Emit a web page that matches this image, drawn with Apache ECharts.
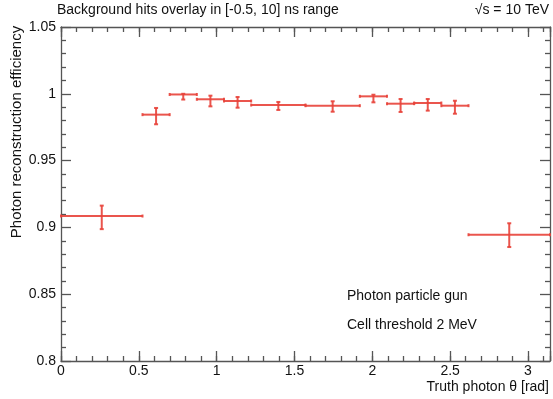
<!DOCTYPE html>
<html>
<head>
<meta charset="utf-8">
<script src="https://cdn.jsdelivr.net/npm/echarts@6/dist/echarts.min.js"></script>
<style>html,body{margin:0;padding:0;background:#fff}#c{width:553px;height:399px}</style>
</head>
<body>
<div id="c"></div>
<script>
// Bin edges in degrees of truth theta
const binLoDeg = [0, 30, 40, 50, 60, 70, 90, 110, 120, 130, 140, 150];
const binHiDeg = [30, 40, 50, 60, 70, 90, 110, 120, 130, 140, 150, 180];
// Efficiency and error band (lower/upper)
const eff    = [0.9085, 0.9844, 0.9995, 0.9959, 0.9946, 0.9916, 0.9911, 0.9981, 0.9926, 0.9931, 0.9911, 0.8945];
const effLow = [0.8987, 0.9772, 0.9957, 0.9906, 0.9896, 0.9879, 0.9866, 0.9936, 0.9864, 0.9874, 0.9851, 0.8853];
const effUp  = [0.9163, 0.9894, 1.0000, 0.9986, 0.9976, 0.9939, 0.9944, 0.9993, 0.9961, 0.9961, 0.9948, 0.9031];
const xTickLabels = ['0', '0.5', '1', '1.5', '2', '2.5', '3'];
const yTickLabels = ['0.8', '0.85', '0.9', '0.95', '1', '1.05'];

const FONT = '"Liberation Sans", Arial, Helvetica, sans-serif';
const RED = '#e8433a';
const AXC = '#555555';

const data = binLoDeg.map((lo, i) => [lo * Math.PI / 180, binHiDeg[i] * Math.PI / 180, eff[i], effLow[i], effUp[i]]);

function renderItem(params, api) {
  const xlo = api.value(0), xhi = api.value(1), y = api.value(2), ylo = api.value(3), yhi = api.value(4);
  const xc = (xlo + xhi) / 2;
  const pL = api.coord([xlo, y]), pR = api.coord([xhi, y]);
  const pT = api.coord([xc, yhi]), pB = api.coord([xc, ylo]);
  const style = { stroke: RED, lineWidth: 2, opacity: 0.9 };
  const c = 2;
  return {
    type: 'group',
    children: [
      { type: 'line', shape: { x1: pL[0], y1: pL[1], x2: pR[0], y2: pR[1] }, style },
      { type: 'line', shape: { x1: pT[0], y1: pT[1], x2: pB[0], y2: pB[1] }, style },
      { type: 'line', shape: { x1: pT[0] - c, y1: pT[1], x2: pT[0] + c, y2: pT[1] }, style },
      { type: 'line', shape: { x1: pB[0] - c, y1: pB[1], x2: pB[0] + c, y2: pB[1] }, style },
      { type: 'line', shape: { x1: pL[0], y1: pL[1] - 1.5, x2: pL[0], y2: pL[1] + 1.5 }, style },
      { type: 'line', shape: { x1: pR[0], y1: pR[1] - 1.5, x2: pR[0], y2: pR[1] + 1.5 }, style }
    ]
  };
}

function isLabel(v, list) {
  return list.indexOf(String(+v.toFixed(4))) >= 0;
}

const lineStyle = { color: AXC, width: 1.3 };
function xAx(pos, interval, len, labels) {
  return {
    type: 'value', min: 0, max: Math.PI, interval: interval, position: pos,
    axisLine: { show: len === 10, onZero: false, lineStyle },
    axisTick: { show: true, inside: true, length: len, lineStyle },
    axisLabel: labels ? {
      show: true, margin: 3, color: '#111', fontSize: 14, fontFamily: FONT,
      showMaxLabel: true,
      formatter: v => isLabel(v, xTickLabels) ? String(+v.toFixed(4)) : ''
    } : { show: false },
    splitLine: { show: false }
  };
}
function yAx(pos, labels) {
  return {
    type: 'value', min: 0.8, max: 1.05, interval: 0.05, position: pos,
    axisLine: { show: true, onZero: false, lineStyle },
    axisTick: { show: true, inside: true, length: 10, lineStyle },
    minorTick: { show: true, splitNumber: 5, length: 5, lineStyle },
    axisLabel: labels ? {
      show: true, margin: 5, color: '#111', fontSize: 14, fontFamily: FONT,
      formatter: v => isLabel(v, yTickLabels) ? String(+v.toFixed(4)) : ''
    } : { show: false },
    splitLine: { show: false }
  };
}

const chart = echarts.init(document.getElementById('c'), null, { renderer: 'canvas' });
chart.setOption({
  backgroundColor: '#ffffff',
  animation: false,
  grid: { left: 61, right: 3, top: 27, bottom: 38, containLabel: false },
  xAxis: [xAx('bottom', 0.5, 10, true), xAx('bottom', 0.1, 5, false), xAx('top', 0.5, 10, false), xAx('top', 0.1, 5, false)],
  yAxis: [yAx('left', true), yAx('right', false)],
  series: [{
    type: 'custom', xAxisIndex: 0, yAxisIndex: 0, clip: false,
    renderItem: renderItem, data: data
  }],
  graphic: [
    { type: 'text', left: 57, top: 3, style: { text: 'Background hits overlay in [-0.5, 10] ns range', font: '14px ' + FONT, fill: '#111' } },
    { type: 'text', right: 4, top: 3, style: { text: '\u221As = 10 TeV', font: '14px ' + FONT, fill: '#111' } },
    { type: 'text', x: 17, y: 132, rotation: Math.PI / 2, style: { text: 'Photon reconstruction efficiency', font: '15px ' + FONT, fill: '#111', align: 'center', verticalAlign: 'middle' } },
    { type: 'text', x: 549, y: 387, style: { text: 'Truth photon \u03B8 [rad]', font: '14px ' + FONT, fill: '#111', align: 'right', verticalAlign: 'middle' } },
    { type: 'text', x: 347, y: 296, style: { text: 'Photon particle gun', font: '14px ' + FONT, fill: '#111', align: 'left', verticalAlign: 'middle' } },
    { type: 'text', x: 347, y: 325, style: { text: 'Cell threshold 2 MeV', font: '14px ' + FONT, fill: '#111', align: 'left', verticalAlign: 'middle' } }
  ]
});
</script>
</body>
</html>
